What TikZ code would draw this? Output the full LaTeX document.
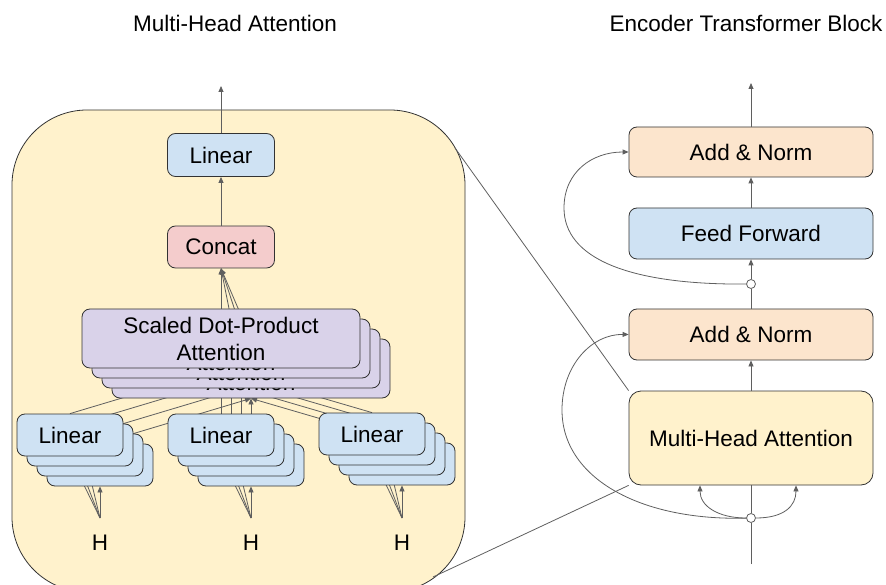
\documentclass[tikz,border=0pt]{standalone}
\usepackage{fontspec}
\setmainfont{Liberation Sans}
\usetikzlibrary{arrows.meta,backgrounds}
\definecolor{yel}{HTML}{FFF2CC}
\definecolor{blu}{HTML}{CFE2F3}
\definecolor{pnk}{HTML}{F4CCCC}
\definecolor{vio}{HTML}{D9D2E9}
\definecolor{org}{HTML}{FCE5CD}
\definecolor{lingray}{HTML}{5F5F5F}

\begin{document}
\begin{tikzpicture}[x=1pt,y=-1pt,
    font=\fontsize{22.5}{27}\selectfont,
    box/.style={draw=black!80,line width=0.8pt,rounded corners=8pt,inner sep=0pt,align=center},
    arr/.style={draw=lingray,line width=0.8pt,-{Triangle[length=6pt,width=5pt]}},
    line/.style={draw=lingray,line width=0.8pt},
    dot/.style={circle,draw=lingray,fill=white,line width=0.8pt,inner sep=0pt,minimum size=9pt}]
  \useasboundingbox (0,0) rectangle (886,585);

  \node (title1) at (235,23) {Multi-Head Attention};
  \node (title2) at (746,23) {Encoder Transformer Block};

  % multi-head attention, zoomed in
  \node[box,fill=blu,minimum width=107pt,minimum height=43pt] (lout) at (221,155) {Linear};
  \node[box,fill=pnk,minimum width=107pt,minimum height=42pt] (cat) at (221,247) {Concat};
  \foreach \k in {3,2,1,0}
    \node[box,fill=vio,minimum width=278pt,minimum height=59pt] (sd\k) at (221+10*\k,338.5+10*\k)
      {Scaled Dot-Product\\Attention};
  \foreach \s/\cx/\cy in {a/70/435,b/221/435,c/372/434}{
    \foreach \k in {3,2,1}
      \node[box,fill=blu,minimum width=106pt,minimum height=42pt] (lin\s\k) at (\cx+10*\k,\cy+10*\k) {};
    \node[box,fill=blu,minimum width=106pt,minimum height=42pt] (lin\s0) at (\cx,\cy) {Linear};
    \node (h\s) at (\cx+30,543) {H};
  }
  \coordinate (out2) at (221,86);
  \draw[arr] (cat) -- (lout);
  \draw[arr] (lout) -- (out2);

  % encoder block
  \node[box,fill=org,minimum width=244pt,minimum height=50pt] (an1) at (751,152) {Add \& Norm};
  \node[box,fill=blu,minimum width=244pt,minimum height=51pt] (ff) at (751,233.5) {Feed Forward};
  \node[dot] (c1) at (751,284) {};
  \node[box,fill=org,minimum width=244pt,minimum height=51pt] (an2) at (751,334.5) {Add \& Norm};
  \node[box,fill=yel,minimum width=244pt,minimum height=94pt,rounded corners=12pt] (mha) at (751,438)
    {Multi-Head Attention};
  \node[dot] (c2) at (751,518) {};
  \coordinate (in) at (751,564);
  \coordinate (out1) at (751,83);

  \draw[arr] (an1) -- (out1);
  \draw[arr] (ff) -- (an1);
  \draw[arr] (c1) -- (ff);
  \draw[line] (an2) -- (c1);
  \draw[arr] (mha) -- (an2);
  \draw[line] (c2) -- (mha);
  \draw[line] (in) -- (c2);
  \draw[arr] (c1) .. controls (628,285) and (564,258) .. (564,208)
    .. controls (564,172) and (592,152) .. (an1.west);
  \draw[arr] (c2) .. controls (640,521) and (562,478) .. (562,410)
    .. controls (562,365) and (592,334) .. (an2.west);
  \draw[arr] (c2) .. controls (718,518) and (700,506) .. ([xshift=-51pt]mha.south);
  \draw[arr] (c2) .. controls (784,518) and (796,506) .. ([xshift=45pt]mha.south);

  \begin{scope}[on background layer]
    \draw[fill=yel,draw=black!80,line width=0.8pt,rounded corners=75pt] (12,110) rectangle (465,592);
    \foreach \k in {0,...,3}{
      \draw[arr] (sd\k.north) -- (cat.south);
      \draw[arr] (lina\k.north) -- (sd\k.south);
      \draw[arr] (linb\k.north) -- (sd\k.south);
      \draw[arr] (linc\k.north) -- (sd\k.south);
      \draw[arr] ([yshift=25pt]ha.center) -- (lina\k.south);
      \draw[arr] ([yshift=25pt]hb.center) -- (linb\k.south);
      \draw[arr] ([yshift=25pt]hc.center) -- (linc\k.south);
    }
    \coordinate (zt) at (455,148);
    \coordinate (zb) at (433,577);
    \draw[line] (zt) -- (mha.north west);
    \draw[line] (zb) -- (mha.south west);
  \end{scope}
\end{tikzpicture}
\end{document}
